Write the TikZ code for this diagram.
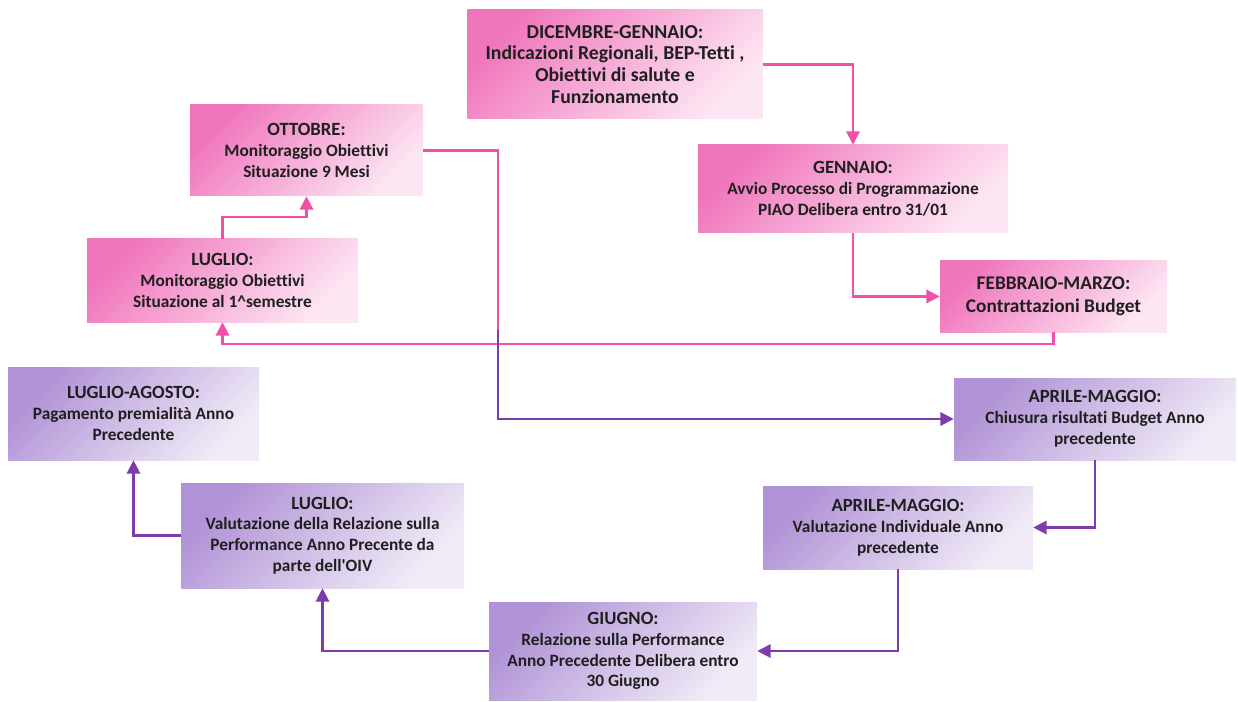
\documentclass[tikz,border=0pt]{standalone}
\usepackage{fontspec}
\setmainfont{Carlito}[Ligatures=CommonOff]
\usetikzlibrary{arrows.meta}

\definecolor{pinkline}{RGB}{240,80,165}
\definecolor{lilacline}{RGB}{125,60,170}
\definecolor{pinkdark}{RGB}{240,118,188}
\definecolor{pinklight}{RGB}{253,230,243}
\definecolor{lilacdark}{RGB}{176,146,214}
\definecolor{lilaclight}{RGB}{241,235,247}

\newcommand{\head}[1]{{\fontsize{14}{16}\selectfont #1}}

\tikzset{
    box/.style = {align=center, inner sep=0pt, text=black!88,
                  font=\bfseries\fontsize{13}{15.6}\selectfont},
    pinkbox/.style = {box, left color=pinkdark, right color=pinklight, shading angle=45},
    lilacbox/.style = {box, left color=lilacdark, right color=lilaclight, shading angle=45},
    pinkarrow/.style = {draw=pinkline, line width=1.6pt, -{Triangle[length=10pt,width=10pt]}},
    lilacarrow/.style = {draw=lilacline, line width=1.6pt, -{Triangle[length=10pt,width=10pt]}}
}

\begin{document}
\begin{tikzpicture}[x=0.75pt, y=-0.75pt]
    \def\u{0.75pt}
    \useasboundingbox (0,0) rectangle (1238,702);
    % pink half of the year
    \node(dic) [pinkbox, minimum width = 295*\u, minimum height = 109*\u,
                font=\bfseries\fontsize{14.8}{16.4}\selectfont] at (615,64.5)
        {DICEMBRE-GENNAIO:\\Indicazioni Regionali, BEP-Tetti ,\\Obiettivi di salute e\\Funzionamento};
    \node(ott) [pinkbox, minimum width = 233*\u, minimum height = 91*\u] at (306.5,150.5)
        {\head{OTTOBRE:}\\Monitoraggio Obiettivi\\Situazione 9 Mesi};
    \node(gen) [pinkbox, minimum width = 310*\u, minimum height = 88*\u] at (853,189)
        {\head{GENNAIO:}\\Avvio Processo di Programmazione\\PIAO Delibera entro 31/01};
    \node(lug1) [pinkbox, minimum width = 271*\u, minimum height = 83*\u] at (222.5,280.5)
        {\head{LUGLIO:}\\Monitoraggio Obiettivi\\Situazione al 1\textasciicircum{}semestre};
    \node(feb) [pinkbox, minimum width = 227*\u, minimum height = 71*\u,
                font=\bfseries\fontsize{14.5}{17.5}\selectfont] at (1053.5,296.5)
        {FEBBRAIO-MARZO:\\Contrattazioni Budget};
    % lilac half of the year
    \node(lugago) [lilacbox, minimum width = 251*\u, minimum height = 93*\u] at (133.5,413.5)
        {\head{LUGLIO-AGOSTO:}\\Pagamento premialità Anno\\Precedente};
    \node(apr1) [lilacbox, minimum width = 282*\u, minimum height = 82*\u] at (1095,419)
        {\head{APRILE-MAGGIO:}\\Chiusura risultati Budget Anno\\precedente};
    \node(lug2) [lilacbox, minimum width = 283*\u, minimum height = 105*\u] at (322.5,535.5)
        {\head{LUGLIO:}\\Valutazione della Relazione sulla\\Performance Anno Precente da\\parte dell\textquotesingle OIV};
    \node(apr2) [lilacbox, minimum width = 270*\u, minimum height = 83*\u] at (898,527.5)
        {\head{APRILE-MAGGIO:}\\Valutazione Individuale Anno\\precedente};
    \node(giu) [lilacbox, minimum width = 268*\u, minimum height = 98*\u] at (623,651)
        {\head{GIUGNO:}\\Relazione sulla Performance\\Anno Precedente Delibera entro\\30 Giugno};
    % connectors
    \draw[pinkarrow] (dic.east) -| (gen.north);
    \draw[pinkarrow] (gen.south) |- (feb.west);
    \draw[pinkarrow] (feb.south) -- ++(0,12) -| (lug1.south);
    \draw[pinkarrow] (lug1.north) -- ++(0,-22) -| (ott.south);
    \coordinate (fade) at (498,330);
    \draw[draw=pinkline, line width=1.6pt] (ott.east) -| (fade);
    \draw[lilacarrow] (fade) |- (apr1.west);
    \draw[lilacarrow] (apr1.south) |- (apr2.east);
    \draw[lilacarrow] (apr2.south) |- (giu.east);
    \draw[lilacarrow] (giu.west) -| (lug2.south);
    \draw[lilacarrow] (lug2.west) -| (lugago.south);
\end{tikzpicture}
\end{document}
